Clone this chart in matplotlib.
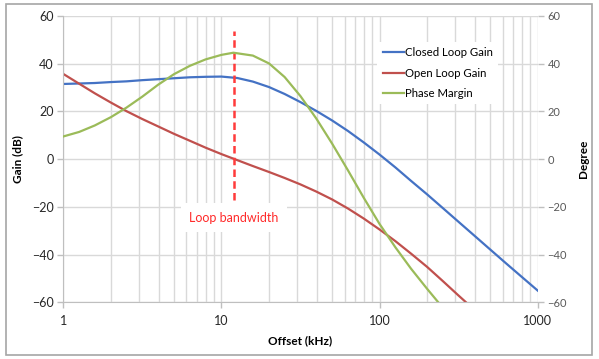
import numpy as np
import matplotlib
matplotlib.use("Agg")
import matplotlib.pyplot as plt
from matplotlib.patches import Rectangle
from matplotlib.ticker import LogLocator, FixedLocator, NullFormatter

plt.rcParams['font.family'] = ['Lato', 'DejaVu Sans']

# ---------------------------------------------------------------------------
# data (offset in kHz, gain in dB / degree)
# ---------------------------------------------------------------------------
f_closed = [1, 1.26, 1.58, 2, 2.51, 3.16, 3.98, 5.01, 6.31, 7.94, 10, 12.6,
            15.8, 20, 25.1, 31.6, 39.8, 50.1, 63.1, 79.4, 100, 126, 158, 200,
            251, 316, 398, 501, 631, 794, 1000]
closed_gain = [31.5, 31.7, 31.9, 32.3, 32.6, 33.1, 33.5, 33.9, 34.3, 34.5, 34.6,
               34.0, 32.5, 30.2, 27.3, 23.9, 20.2, 16.2, 11.8, 7.0, 1.9, -3.5,
               -9.1, -14.8, -20.5, -26.3, -32.1, -37.9, -43.7, -49.4, -55.1]

f_open = [1, 1.26, 1.58, 2, 2.51, 3.16, 3.98, 5.01, 6.31, 7.94, 10, 12,
          15.8, 20, 25.1, 31.6, 39.8, 50.1, 63.1, 79.4, 100, 126, 158, 200,
          251, 316, 356]
open_gain = [35.7, 31.6, 27.6, 23.7, 20.1, 16.8, 13.7, 10.6, 7.7, 4.8, 2.1, 0.1,
             -2.9, -5.4, -7.9, -10.6, -13.6, -16.9, -20.7, -24.9, -29.5, -34.4,
             -39.6, -45.2, -51.1, -57.2, -60.3]

f_phase = [1, 1.26, 1.58, 2, 2.51, 3.16, 3.98, 5.01, 6.31, 7.94, 10, 11.9,
           15.8, 20, 25.1, 31.6, 39.8, 50.1, 63.1, 79.4, 100, 126, 158, 200, 235]
phase_margin = [9.5, 11.4, 14.1, 17.6, 21.6, 26.2, 31.2, 35.6, 39.1, 41.8, 43.7,
                44.6, 43.4, 40.1, 34.4, 26.4, 17.0, 6.5, -4.7, -16.2, -27.2,
                -37.0, -45.9, -54.4, -60.0]

loop_bw = 12.0
y_ticks = [-60, -40, -20, 0, 20, 40, 60]
x_ticks = [1, 10, 100, 1000]

c_closed = '#4472C4'
c_open = '#C0504D'
c_phase = '#9BBB59'
grid_c = '#D9D9D9'

fig = plt.figure(figsize=(5.99, 3.59), dpi=100)
ax = fig.add_axes([0.1057, 0.158, 0.792, 0.7975])
ax2 = ax.twinx()

# outer frame like the spreadsheet chart area
fig.patches.append(Rectangle((5.5 / 599, 4 / 359), 586 / 599, 351 / 359,
                             transform=fig.transFigure, fill=False,
                             edgecolor='#A6A6A6', linewidth=1.2))

l1, = ax.plot(f_closed, closed_gain, color=c_closed, lw=1.6, label='Closed Loop Gain')
l2, = ax.plot(f_open, open_gain, color=c_open, lw=1.6, label='Open Loop Gain')
l3, = ax2.plot(f_phase, phase_margin, color=c_phase, lw=1.6, label='Phase Margin')

ax.plot([loop_bw, loop_bw], [-17, 53.5], color='#FF3B3B', lw=1.8,
        linestyle=(0, (3, 1.7)), zorder=3)
ax.text(loop_bw, -24.5, 'Loop bandwidth', color='#FF2A2A', fontsize=9,
        ha='center', va='center', zorder=4,
        bbox=dict(facecolor='white', edgecolor='none', pad=6))

for a in (ax, ax2):
    a.set_xscale('log')
    a.set_xlim(1, 1000)
    a.set_ylim(-60, 60)
    a.set_yticks(y_ticks)

ax.xaxis.set_major_locator(FixedLocator(x_ticks))
ax.set_xticklabels([str(t) for t in x_ticks])
ax.xaxis.set_minor_locator(LogLocator(base=10, subs=np.arange(2, 10)))
ax.xaxis.set_minor_formatter(NullFormatter())

ax.grid(True, which='major', axis='both', color=grid_c, lw=1.0)
ax.grid(True, which='minor', axis='x', color=grid_c, lw=1.0)
ax.set_axisbelow(True)

for a in (ax, ax2):
    for s in a.spines.values():
        s.set_visible(False)
ax.spines['left'].set_visible(True)
ax.spines['left'].set_color('#BFBFBF')
ax.spines['bottom'].set_visible(True)
ax.spines['bottom'].set_color('#BFBFBF')

ax.tick_params(axis='y', length=4, width=1, color='#BFBFBF', pad=3,
               labelsize=9, labelcolor='#262626')
ax.tick_params(axis='x', which='major', length=4, width=1, color='#BFBFBF',
               pad=5, labelsize=9, labelcolor='#262626')
ax.tick_params(axis='x', which='minor', length=0)
ax2.tick_params(axis='y', length=4, width=1, color='#BFBFBF', pad=3,
                labelsize=8, labelcolor='#595959')

ax.set_xlabel('Offset (kHz)', fontsize=8.5, fontweight='bold', labelpad=6)
ax.set_ylabel('Gain (dB)', fontsize=8.5, fontweight='bold', labelpad=6)
ax2.set_ylabel('Degree', fontsize=8.5, fontweight='bold', labelpad=8)

leg = ax2.legend(handles=[l1, l2, l3], loc='upper left',
                 bbox_to_anchor=(0.65, 0.93), frameon=True, fancybox=False,
                 edgecolor='none', facecolor='white', framealpha=1,
                 fontsize=8.2, handlelength=1.8, handletextpad=0.1,
                 labelspacing=0.8, borderpad=0.5)

fig.savefig('out.png', dpi=100)
